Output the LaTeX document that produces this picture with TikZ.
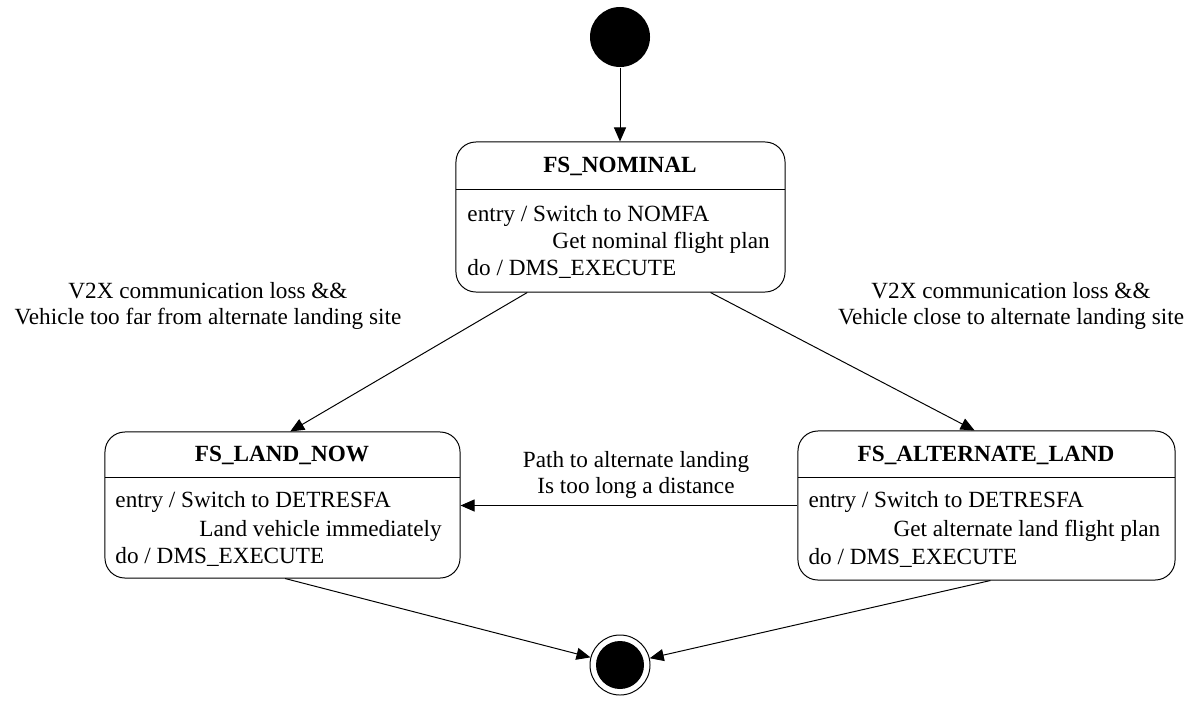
\documentclass[tikz,border=0pt]{standalone}
\usepackage{fontspec}
\setmainfont{Liberation Serif}
\usetikzlibrary{arrows.meta}

\begin{document}
\begin{tikzpicture}[x=0.025cm, y=-0.025cm, line width=0.7pt,
  every node/.style={font=\fontsize{16.5}{18}\selectfont, inner sep=0pt},
  state/.style={draw, rounded corners=0.5cm},
  title/.style={anchor=base, font=\fontsize{16.5}{18}\selectfont\bfseries},
  txt/.style={anchor=base west},
  trans/.style={-{Triangle[length=0.35cm,width=0.3cm]}}]

\useasboundingbox (0,0) rectangle (1196,704);

% pseudo states
\node [circle, fill, minimum size=1.5cm] (init) at (620,37) {};
\node [circle, draw, minimum size=1.5cm] (final) at (620,665) {};
\fill (final) circle (0.6cm);

% FS_NOMINAL
\node [state, minimum width=8.225cm, minimum height=3.75cm] (nominal) at (620.5,217) {};
\draw (456,189) -- (785,189);
\node [title] (nomtitle) at (620,172) {FS\_NOMINAL};
\node [txt] (nom1) at (467,221) {entry / Switch to NOMFA};
\node [txt] (nom2) at (552,248) {Get nominal flight plan};
\node [txt] (nom3) at (467,275) {do / DMS\_EXECUTE};

% FS_LAND_NOW
\node [state, minimum width=8.875cm, minimum height=3.65cm] (landnow) at (282.5,505) {};
\draw (105,477) -- (460,477);
\node [title] (landtitle) at (282,461) {FS\_LAND\_NOW};
\node [txt] (land1) at (115,507) {entry / Switch to DETRESFA};
\node [txt] (land2) at (199,536) {Land vehicle immediately};
\node [txt] (land3) at (115,563) {do / DMS\_EXECUTE};

% FS_ALTERNATE_LAND
\node [state, minimum width=9.425cm, minimum height=3.725cm] (altland) at (986.5,505.5) {};
\draw (798,477) -- (1175,477);
\node [title] (alttitle) at (986,461) {FS\_ALTERNATE\_LAND};
\node [txt] (alt1) at (808,507) {entry / Switch to DETRESFA};
\node [txt] (alt2) at (893,536) {Get alternate land flight plan};
\node [txt] (alt3) at (808,564) {do / DMS\_EXECUTE};

% transitions
\draw [trans] (init) -- (init |- nominal.north);
\draw [trans] (nominal.-141) -- (landnow.84);
\draw [trans] (nominal.-40) -- (altland.99);
\draw [trans] (altland.west) -- (altland.west -| landnow.east);
\draw [trans] (landnow.-88) -- (final);
\draw [trans] (altland.-87) -- (final);

% guards
\node [align=center] (guard1) at (208,306) {V2X communication loss \&\&\\Vehicle too far from alternate landing site};
\node [align=center] (guard2) at (1011,306) {V2X communication loss \&\&\\Vehicle close to alternate landing site};
\node [align=center] (guard3) at (636,475) {Path to alternate landing\\Is too long a distance};

\end{tikzpicture}
\end{document}
